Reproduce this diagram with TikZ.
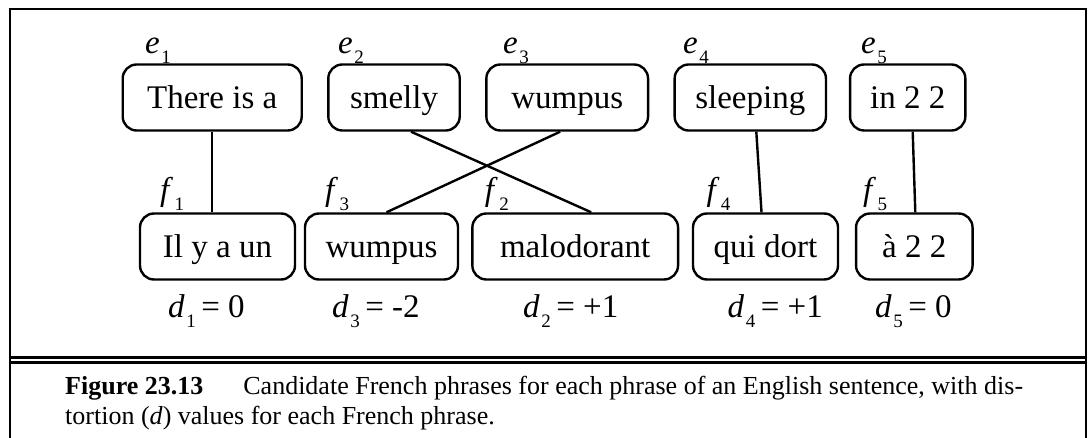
\documentclass[tikz,border=0pt]{standalone}
\usepackage{fontspec}
\setmainfont{Liberation Serif}
\newcommand{\sublbl}[2]{\textit{#1}\hspace{1.5pt}\raisebox{-10pt}{\fontsize{19}{19}\selectfont #2}}
\begin{document}
\begin{tikzpicture}[
    x=1pt, y=-1pt,
    phrasebox/.style={draw, rounded corners=14pt, line width=2.4pt, minimum height=66pt, inner sep=0pt,
        text height=25pt, text depth=3pt, font=\fontsize{33}{40}\selectfont},
    sublabel/.style={anchor=base west, inner sep=0pt, font=\fontsize{33}{40}\selectfont},
    link/.style={line width=2.4pt},
    frameline/.style={line width=2.6pt}
]

    \useasboundingbox (0,0) rectangle (1089,438);

    % Outer frame and double rule above the caption
    \draw[frameline] (10,438) -- (10,9) -- (1086,9) -- (1086,438);
    \draw[frameline] (10,357.5) -- (1086,357.5);
    \draw[frameline] (10,362.5) -- (1086,362.5);

    % English phrases
    \foreach \name/\x/\w/\txt in {e1/212.2/179/There is a, e2/394/131.4/smelly, e3/567.2/161.7/wumpus, e4/750.3/151.3/sleeping, e5/907.7/115.3/in 2 2} {
        \node[phrasebox, minimum width=\w pt] (\name) at (\x,97.5) {\txt};
    }

    % French phrases
    \foreach \name/\x/\w/\txt in {f1/217.5/155/Il y a un, f3/381.5/153/wumpus, f2/575.2/205.7/malodorant, f4/765.5/145/qui dort, f5/914.3/116.5/à 2 2} {
        \node[phrasebox, minimum width=\w pt] (\name) at (\x,246.5) {\txt};
    }

    % Phrase labels
    \foreach \n/\x in {1/145, 2/338, 3/503, 4/683, 5/861} {
        \node[sublabel] (elbl\n) at (\x,54) {\sublbl{e}{\n}};
    }
    \foreach \n/\x in {1/160, 3/325, 2/484.7, 4/706.3, 5/863} {
        \node[sublabel] (flbl\n) at (\x,201) {\sublbl{f}{\n}};
    }

    % Distortion values
    \foreach \n/\x/\v in {1/168/0, 3/332/-2, 2/523/+1, 4/727.5/+1, 5/875/0} {
        \node[sublabel] (dlbl\n) at (\x,317) {\sublbl{d}{\n}\,= \v};
    }

    % Alignment links
    \draw[link] (e1.south) -- (e1.south |- f1.north);
    \draw[link] ([xshift=17pt]e2.south) -- ([xshift=16pt]f2.north);
    \draw[link] ([xshift=-7pt]e3.south) -- ([xshift=5pt]f3.north);
    \draw[link] ([xshift=6pt]e4.south) -- ([xshift=-4pt]f4.north);
    \draw[link] ([xshift=5pt]e5.south) -- ([xshift=1pt]f5.north);

    % Caption
    \node[anchor=base west, inner sep=0pt, font=\fontsize{26}{30}\selectfont] (cap1) at (65,394)
        {\textbf{Figure 23.13}\hspace{40pt}Candidate French phrases for each phrase of an English sentence, with dis-};
    \node[anchor=base west, inner sep=0pt, font=\fontsize{26}{30}\selectfont] (cap2) at (65,424)
        {tortion (\textit{d}) values for each French phrase.};

\end{tikzpicture}
\end{document}
